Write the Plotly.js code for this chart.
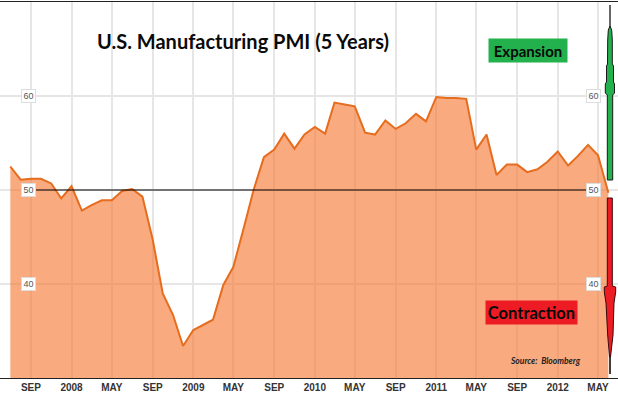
<!DOCTYPE html>
<html>
<head>
<meta charset="utf-8">
<script src="https://cdn.plot.ly/plotly-3.0.1.min.js"></script>
<style>html,body{margin:0;padding:0;background:#fff;}#chart{width:618px;height:393px;}</style>
</head>
<body>
<div id="chart"></div>
<script>
// Data: U.S. Manufacturing PMI, monthly, Jul 2007 - Jun 2012
const months = [
  '2007-07-01','2007-08-01','2007-09-01','2007-10-01','2007-11-01','2007-12-01',
  '2008-01-01','2008-02-01','2008-03-01','2008-04-01','2008-05-01','2008-06-01',
  '2008-07-01','2008-08-01','2008-09-01','2008-10-01','2008-11-01','2008-12-01',
  '2009-01-01','2009-02-01','2009-03-01','2009-04-01','2009-05-01','2009-06-01',
  '2009-07-01','2009-08-01','2009-09-01','2009-10-01','2009-11-01','2009-12-01',
  '2010-01-01','2010-02-01','2010-03-01','2010-04-01','2010-05-01','2010-06-01',
  '2010-07-01','2010-08-01','2010-09-01','2010-10-01','2010-11-01','2010-12-01',
  '2011-01-01','2011-02-01','2011-03-01','2011-04-01','2011-05-01','2011-06-01',
  '2011-07-01','2011-08-01','2011-09-01','2011-10-01','2011-11-01','2011-12-01',
  '2012-01-01','2012-02-01','2012-03-01','2012-04-01','2012-05-01','2012-06-01'
];
const pmi = [
  52.5, 51.1, 51.2, 51.2, 50.7, 49.1,
  50.4, 47.8, 48.4, 48.9, 48.9, 49.9,
  50.1, 49.3, 44.7, 39.0, 36.7, 33.4,
  35.1, 35.7, 36.2, 39.9, 41.8, 45.9,
  50.0, 53.5, 54.3, 56.0, 54.4, 55.9,
  56.7, 56.0, 59.3, 59.1, 58.9, 56.1,
  55.9, 57.4, 56.5, 57.1, 58.1, 57.3,
  59.9, 59.8, 59.8, 59.7, 54.3, 55.9,
  51.6, 52.7, 52.7, 51.9, 52.2, 53.0,
  54.1, 52.6, 53.6, 54.8, 53.7, 49.7
];
const tickDates = ['2007-09-01','2008-01-01','2008-05-01','2008-09-01','2009-01-01','2009-05-01',
  '2009-09-01','2010-01-01','2010-05-01','2010-09-01','2011-01-01','2011-05-01',
  '2011-09-01','2012-01-01','2012-05-01'];
const tickLabels = ['SEP','2008','MAY','SEP','2009','MAY','SEP','2010','MAY','SEP','2011','MAY','SEP','2012','MAY'];
const yTicks = [40, 50, 60];
const threshold = 50;

const W = 618, H = 393, T = 2, B = 15;
const plotH = H - T - B;
const px = x => x / W;
const py = y => 1 - (y - T) / plotH;

const trace = {
  x: months, y: pmi, type: 'scatter', mode: 'lines',
  line: {color: 'rgb(230,108,30)', width: 2},
  fill: 'tozeroy', fillcolor: 'rgba(245,118,48,0.62)',
  hoverinfo: 'skip'
};

function pathFrom(pts) {
  return 'M ' + pts.map(p => px(p[0]) + ',' + py(p[1])).join(' L ') + ' Z';
}
const greenArrow = [[610,26],[611.7,30],[612.3,40],[612.3,64],[613.5,66],[613.5,82],[614.5,84],[614.5,93],[612.7,95],[612.7,180],
  [607.3,180],[607.3,95],[605.3,93],[605.3,84],[606.5,82],[606.5,66],[607.5,64],[607.7,40],[608.3,30]];
const redArrow = [[607.3,198],[612.3,198],[612.3,286],[615.7,287],[615.7,292],[614,303],[613,335],[610.5,357],[609.5,357],
  [607.7,335],[606,303],[604.3,292],[604.3,287],[607.3,286]];

const shapes = [
  {type:'rect', xref:'paper', yref:'paper', x0:px(62), x1:px(398), y0:py(56), y1:py(25),
   fillcolor:'#ffffff', line:{width:0}, layer:'between'},
  {type:'line', xref:'paper', yref:'y', x0:px(35), x1:px(587), y0:threshold, y1:threshold,
   line:{color:'#000', width:1.2}},
  {type:'line', xref:'paper', yref:'paper', x0:px(610), x1:px(610), y0:py(5), y1:py(28),
   line:{color:'#000', width:1.2}},
  {type:'path', xref:'paper', yref:'paper', path:pathFrom(greenArrow),
   fillcolor:'#22b14c', line:{color:'#1a1a1a', width:1}},
  {type:'line', xref:'paper', yref:'paper', x0:px(610), x1:px(610), y0:py(350), y1:py(374),
   line:{color:'#000', width:1.5}},
  {type:'path', xref:'paper', yref:'paper', path:pathFrom(redArrow),
   fillcolor:'#ed1c24', line:{color:'#3a0a0a', width:1}}
];

const annotations = [];
annotations.push({xref:'paper', yref:'paper', x:px(243), y:py(41), xanchor:'center', yanchor:'middle',
  text:'<b>U.S. Manufacturing PMI (5 Years)</b>', showarrow:false,
  font:{family:'Lato, "Open Sans", sans-serif', size:20, color:'#0a0a0a'}});
annotations.push({xref:'paper', yref:'paper', x:px(528), y:py(50.5), xanchor:'center', yanchor:'middle',
  text:'<b>Expansion</b>', showarrow:false, bgcolor:'#22b14c', width:78, height:23, borderpad:0,
  font:{family:'Lato, sans-serif', size:15, color:'#0a0a0a'}});
annotations.push({xref:'paper', yref:'paper', x:px(531.5), y:py(312.5), xanchor:'center', yanchor:'middle',
  text:'<b>Contraction</b>', showarrow:false, bgcolor:'#ed1c24', width:91, height:23, borderpad:0,
  font:{family:'Lato, sans-serif', size:16.5, color:'#0a0a0a'}});
annotations.push({xref:'paper', yref:'paper', x:px(545), y:py(361), xanchor:'center', yanchor:'middle',
  text:'<b><i>Source:  Bloomberg</i></b>', showarrow:false,
  font:{family:'Lato, sans-serif', size:8.5, color:'#222'}});
yTicks.forEach(v => {
  [28.5, 593].forEach(xp => {
    annotations.push({xref:'paper', yref:'y', x:px(xp), y:v, xanchor:'center', yanchor:'middle',
      text:String(v), showarrow:false, bgcolor:'#ffffff', bordercolor:'#dddddd', borderwidth:1,
      borderpad:1, width:11, height:10,
      font:{family:'Arial, "Liberation Sans", sans-serif', size:9, color:'#555'}});
  });
});

const layout = {
  width: W, height: H,
  margin: {l:0, r:0, t:T, b:B, pad:0},
  paper_bgcolor:'#fff', plot_bgcolor:'#fff',
  showlegend:false,
  xaxis: {
    type:'date', range:['2007-05-31','2012-06-30'],
    tickmode:'array', tickvals:tickDates, ticktext:tickLabels,
    showgrid:true, gridcolor:'#e6e6e6', gridwidth:2,
    showline:true, linecolor:'#222', linewidth:1, mirror:true,
    ticks:'', ticklen:0,
    tickfont:{family:'Arial, "Liberation Sans", sans-serif', size:10, color:'#333', weight:'bold'},
    zeroline:false, fixedrange:true
  },
  yaxis: {
    range:[30,70], tickmode:'array', tickvals:yTicks,
    showticklabels:false, showgrid:true, gridcolor:'#e6e6e6', gridwidth:1.5,
    zeroline:false, showline:false, fixedrange:true
  },
  shapes: shapes,
  annotations: annotations
};

Plotly.newPlot('chart', [trace], layout, {displayModeBar:false, staticPlot:true});
</script>
</body>
</html>
